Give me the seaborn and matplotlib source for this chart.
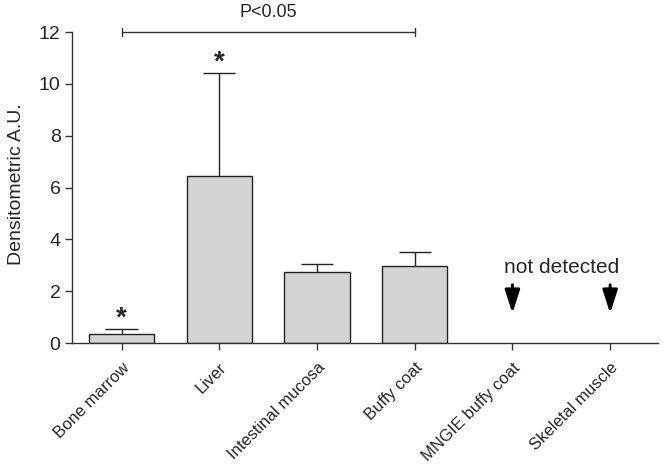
import matplotlib

matplotlib.use("Agg")

import matplotlib.pyplot as plt
import numpy as np
import pandas as pd
import seaborn as sns

CATEGORIES = ["Bone marrow", "Liver", "Intestinal mucosa", "Buffy coat",
              "MNGIE buffy coat", "Skeletal muscle"]
MEANS = [0.35, 6.45, 2.75, 2.97, np.nan, np.nan]
ERRORS = [0.19, 3.97, 0.30, 0.56, np.nan, np.nan]
STARRED = ["Bone marrow", "Liver"]
NOT_DETECTED = ["MNGIE buffy coat", "Skeletal muscle"]
BRACKET = ("Bone marrow", "Buffy coat")

sns.set_style("ticks")
plt.rcParams["font.family"] = ["Liberation Sans", "DejaVu Sans"]

df = pd.DataFrame({"tissue": CATEGORIES, "value": MEANS, "err": ERRORS})
good = df.dropna()
pos = {c: i for i, c in enumerate(CATEGORIES)}

fig = plt.figure(figsize=(6.64, 4.65), dpi=100)
ax = fig.add_axes([0.108, 0.262, 0.883, 0.669])

sns.barplot(data=good, x="tissue", y="value", order=CATEGORIES,
            color="#d4d4d4", edgecolor="#222222", linewidth=1.0,
            width=0.67, saturation=1, errorbar=None, ax=ax, zorder=2)

# upper-only error bars
xs = np.array([pos[c] for c in good["tissue"]])
tops = good["value"].to_numpy() + good["err"].to_numpy()
ax.vlines(xs, good["value"], tops, color="#222222", lw=1.0, zorder=1)
ax.hlines(tops, xs - 0.165, xs + 0.165, color="#222222", lw=1.0, zorder=1)

for c in STARRED:
    row = good[good["tissue"] == c].iloc[0]
    ax.text(pos[c], row["value"] + row["err"] + 0.42, "*", ha="center",
            va="center", fontsize=20, fontweight="bold")

# not detected arrows
for c in NOT_DETECTED:
    ax.annotate("", xy=(pos[c], 1.15), xytext=(pos[c], 2.25),
                arrowprops=dict(arrowstyle="-|>,head_width=0.45,head_length=1.4",
                                color="black", lw=2.2, shrinkA=0, shrinkB=0))
ax.text((pos[NOT_DETECTED[0]] + pos[NOT_DETECTED[1]]) / 2, 2.9, "not detected",
        ha="center", va="center", fontsize=15)

# significance bracket
x0, x1 = pos[BRACKET[0]], pos[BRACKET[1]]
ax.plot([x0, x1], [12, 12], color="#333333", lw=1.0, clip_on=False)
for x in (x0, x1):
    ax.plot([x, x], [11.85, 12.15], color="#333333", lw=1.0, clip_on=False)
ax.text((x0 + x1) / 2, 12.75, "P<0.05", ha="center", va="center",
        fontsize=13)

ax.set_xlim(-0.51, 5.49)
ax.set_ylim(0, 12)
ax.set_yticks([0, 2, 4, 6, 8, 10, 12])
ax.set_xticks(range(len(CATEGORIES)))
ax.set_xticklabels(CATEGORIES, rotation=45, ha="right", rotation_mode="anchor",
                   fontsize=12)
ax.tick_params(axis="y", labelsize=14, length=5, width=1.0, color="#333333",
               pad=3)
ax.tick_params(axis="x", length=5, width=1.0, color="#333333", pad=7)
ax.set_xlabel("")
ax.set_ylabel("Densitometric A.U.", fontsize=14)
ax.yaxis.set_label_coords(-0.08, 0.51)
for s in ("left", "bottom"):
    ax.spines[s].set_linewidth(1.0)
    ax.spines[s].set_color("#333333")
sns.despine(ax=ax)

fig.savefig("out.png", dpi=100)
